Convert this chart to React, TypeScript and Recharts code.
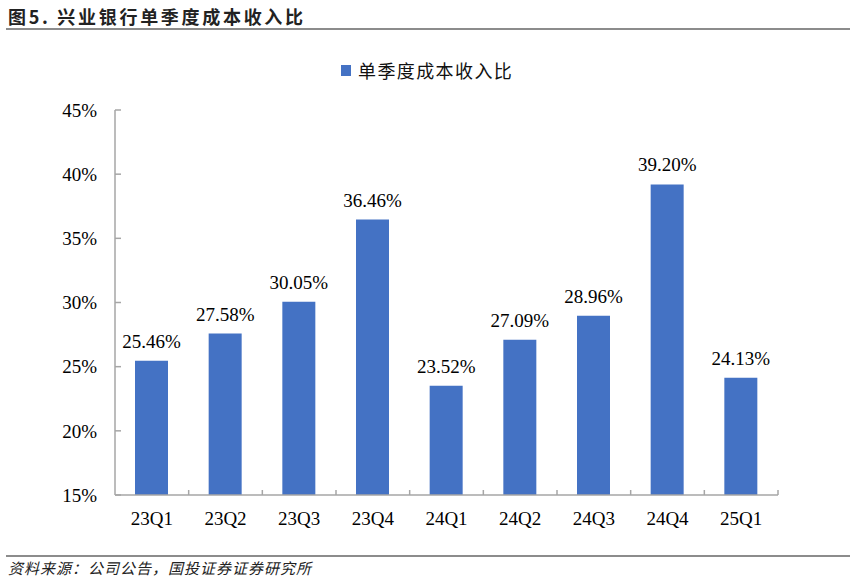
import React from 'react';
import { BarChart, Bar, XAxis, YAxis, LabelList } from 'recharts';

const quarters = ['23Q1', '23Q2', '23Q3', '23Q4', '24Q1', '24Q2', '24Q3', '24Q4', '25Q1'];
const costIncomeRatio = [25.46, 27.58, 30.05, 36.46, 23.52, 27.09, 28.96, 39.2, 24.13];
const yTicks = [15, 20, 25, 30, 35, 40, 45];

const TITLE = '图5. 兴业银行单季度成本收入比';
const SERIES_NAME = '单季度成本收入比';
const SOURCE = '资料来源：公司公告，国投证券证券研究所';

const chartData = quarters.map((q, i) => ({ quarter: q, value: costIncomeRatio[i] }));

const SERIF = '"Times New Roman", "Liberation Serif", serif';
const AXIS_COLOR = '#a6a6a6';
const X_MARGIN = 17;
const Y_MARGIN = 18;

// category label plus an inward tick mark on the right boundary of each band
const XTick = (props: any) => {
  const { x, y, payload, width, visibleTicksCount } = props;
  const band = width / visibleTicksCount;
  const axisY = y - X_MARGIN;
  return (
    <g>
      <line x1={x + band / 2} x2={x + band / 2} y1={axisY} y2={axisY - 5} stroke={AXIS_COLOR} strokeWidth={1.5} />
      <text x={x} y={y} dy="0.71em" textAnchor="middle" fontFamily={SERIF} fontSize={19} fill="#000">
        {payload.value}
      </text>
    </g>
  );
};

const YTick = (props: any) => {
  const { x, y, payload } = props;
  const axisX = x + Y_MARGIN;
  return (
    <g>
      <line x1={axisX} x2={axisX + 6} y1={y} y2={y} stroke={AXIS_COLOR} strokeWidth={1.5} />
      <text x={x} y={y} dy="0.355em" textAnchor="end" fontFamily={SERIF} fontSize={19} fill="#000">
        {payload.value}%
      </text>
    </g>
  );
};

export default function App() {
  return (
    <div style={{ position: 'absolute', left: 0, top: 0, width: 850, height: 581, background: '#fff' }}>
      <div
        style={{
          position: 'absolute',
          left: 8,
          top: 4,
          fontFamily: '"Noto Sans CJK SC", sans-serif',
          fontWeight: 700,
          fontSize: 18,
          letterSpacing: 2.7,
          color: '#222',
          lineHeight: '24px',
          whiteSpace: 'nowrap',
        }}
      >
        {TITLE}
      </div>
      <div style={{ position: 'absolute', left: 6, right: 0, top: 28, height: 2, background: '#8c8c8c' }} />

      <div
        style={{
          position: 'absolute',
          left: 341,
          top: 58,
          display: 'flex',
          alignItems: 'center',
          fontFamily: '"Noto Sans CJK SC", sans-serif',
          fontSize: 18,
          letterSpacing: 1.4,
          color: '#111',
          whiteSpace: 'nowrap',
          lineHeight: '24px',
        }}
      >
        <span style={{ display: 'inline-block', width: 10, height: 11, background: '#4472C4', marginRight: 7 }} />
        {SERIES_NAME}
      </div>

      <BarChart
        width={850}
        height={581}
        data={chartData}
        margin={{ top: 110, right: 72, bottom: 46, left: 55 }}
        style={{ position: 'absolute', left: 0, top: 0 }}
      >
        <XAxis
          dataKey="quarter"
          height={40}
          interval={0}
          tickSize={0}
          tickMargin={X_MARGIN}
          tickLine={false}
          axisLine={{ stroke: AXIS_COLOR, strokeWidth: 1.5 }}
          tick={<XTick />}
        />
        <YAxis
          width={60}
          domain={[15, 45]}
          ticks={yTicks}
          interval={0}
          allowDataOverflow
          tickSize={0}
          tickMargin={Y_MARGIN}
          tickLine={false}
          axisLine={{ stroke: AXIS_COLOR, strokeWidth: 1.5 }}
          tick={<YTick />}
        />
        <Bar dataKey="value" fill="#4472C4" barSize={33} isAnimationActive={false}>
          <LabelList
            dataKey="value"
            position="top"
            offset={13}
            formatter={(v: any) => `${Number(v).toFixed(2)}%`}
            style={{ fontFamily: SERIF, fontSize: 19, fill: '#000' }}
          />
        </Bar>
      </BarChart>

      <div style={{ position: 'absolute', left: 6, right: 0, top: 555, height: 2, background: '#8c8c8c' }} />
      <div
        style={{
          position: 'absolute',
          left: 8,
          top: 558,
          fontFamily: '"Noto Sans CJK SC", sans-serif',
          fontStyle: 'italic',
          fontSize: 15,
          letterSpacing: 1,
          color: '#222',
          lineHeight: '20px',
          whiteSpace: 'nowrap',
        }}
      >
        {SOURCE}
      </div>
    </div>
  );
}
